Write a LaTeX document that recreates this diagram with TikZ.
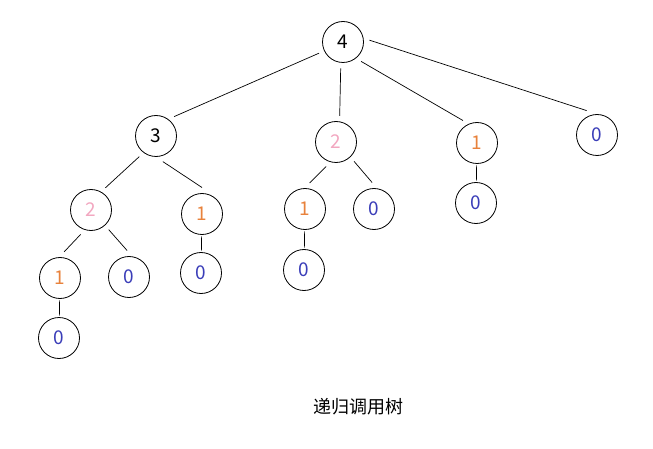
\documentclass[tikz,border=0pt]{standalone}
\usepackage{fontspec}
\setmainfont{Noto Sans CJK SC}
\definecolor{pinkc}{HTML}{F2A7C0}
\definecolor{orangec}{HTML}{E8823C}
\definecolor{bluec}{HTML}{3A3DB8}
\begin{document}
\begin{tikzpicture}[x=1pt,y=-1pt,
  tn/.style={circle,draw,line width=0.8pt,minimum size=41pt,inner sep=0pt,outer sep=6pt,font=\fontsize{19}{19}\selectfont},
  pk/.style={tn,text=pinkc},
  og/.style={tn,text=orangec},
  bl/.style={tn,text=bluec},
  edge/.style={line width=0.7pt},
  vedge/.style={edge,shorten >=-4pt,shorten <=-4pt}]
\useasboundingbox (0,0) rectangle (653,449);
\node[tn] (r) at (343,42) {4};
\node[tn] (a) at (156,136) {3};
\node[pk] (b) at (336,142) {2};
\node[og] (c) at (477,143) {1};
\node[bl] (d) at (597,135) {0};
\node[pk] (a1) at (91,210) {2};
\node[og] (a2) at (202,214) {1};
\node[og] (b1) at (305,209) {1};
\node[bl] (b2) at (374,209) {0};
\node[bl] (c1) at (476,203) {0};
\node[og] (a11) at (60,278) {1};
\node[bl] (a12) at (129,277) {0};
\node[bl] (a21) at (201,273) {0};
\node[bl] (b11) at (304,270) {0};
\node[bl] (a111) at (59,338) {0};
\draw[edge] (r.205) -- (a.47);
\draw[edge] (r.265) -- (b.82);
\draw[edge] (r.313) -- (c.122);
\draw[edge] (r.4) -- (d.113);
\draw[edge] (a.231) -- (a1.57);
\draw[edge] (a.285) -- (a2.90);
\draw[edge] (b.248) -- (b1.80);
\draw[edge] (b.313) -- (b2.94);
\draw[vedge] (c) -- (c1);
\draw[edge] (a1.247) -- (a11.81);
\draw[edge] (a1.312) -- (a12.94);
\draw[vedge] (a2) -- (a21);
\draw[vedge] (b1) -- (b11);
\draw[vedge] (a11) -- (a111);
\node[font=\fontsize{18}{18}\selectfont] (cap) at (358,407) {递归调用树};
\end{tikzpicture}
\end{document}
